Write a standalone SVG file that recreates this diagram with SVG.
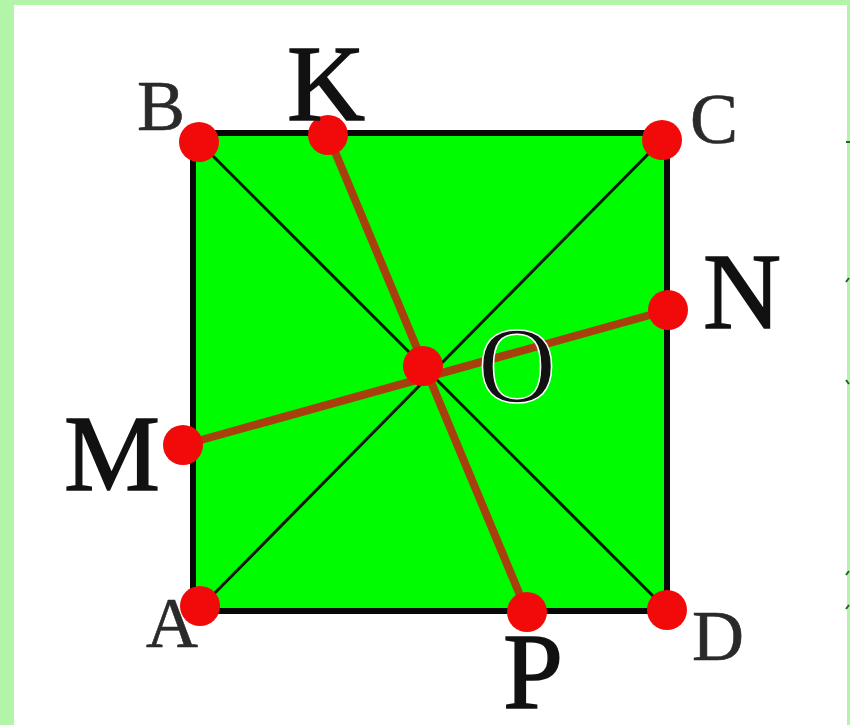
<svg xmlns="http://www.w3.org/2000/svg" width="850" height="725" viewBox="0 0 850 725">
<style>
.lbl{font-family:"Liberation Serif","Times New Roman",serif;fill:#111}
.big{font-size:108px;stroke:#111;stroke-width:1.5}
.sm{font-size:72px;fill:#2a2a2a;stroke:#2a2a2a;stroke-width:0.6}
.dot{fill:#f20a0a}
.diag{stroke:#0a1a0a;stroke-width:3}
.seg{stroke:#a8400e;stroke-width:8;stroke-linecap:round}
</style>
<rect x="0" y="0" width="850" height="725" fill="#b3f5a8"/>
<rect x="14" y="5" width="833" height="720" fill="#ffffff"/>
<g id="marks" stroke="#1a6a1a" stroke-width="2">
<line x1="846" y1="142" x2="850" y2="142"/>
<line x1="846" y1="282" x2="849" y2="278"/>
<line x1="846" y1="380" x2="849" y2="384"/>
<line x1="846" y1="575" x2="849" y2="571"/>
<line x1="846" y1="609" x2="849" y2="605"/>
</g>
<g id="square">
<rect x="193" y="133" width="474" height="478" fill="#00fc00" stroke="#080808" stroke-width="6"/>
</g>
<g id="connectors">
<line class="diag" x1="199" y1="142" x2="667" y2="610"/>
<line class="diag" x1="200" y1="608" x2="662" y2="140"/>
<line class="seg" x1="328" y1="135" x2="527" y2="612"/>
<line class="seg" x1="183" y1="445" x2="668" y2="310"/>
</g>
<g id="node-B"><circle class="dot" cx="199" cy="142" r="20"/><text class="lbl sm" x="137" y="130">B</text></g>
<g id="node-K"><circle class="dot" cx="328" cy="135" r="20"/><text class="lbl big" x="287" y="120">K</text></g>
<g id="node-C"><circle class="dot" cx="662" cy="140" r="20"/><text class="lbl sm" x="690" y="143">C</text></g>
<g id="node-N"><circle class="dot" cx="668" cy="310" r="20"/><text class="lbl big" x="703" y="328">N</text></g>
<g id="node-O"><circle class="dot" cx="423" cy="366" r="20"/><text class="lbl" x="478" y="402" font-size="108" fill="#000" stroke="#ffffff" stroke-width="1.5">O</text></g>
<g id="node-M"><circle class="dot" cx="183" cy="445" r="20"/><text class="lbl big" x="64" y="490">M</text></g>
<g id="node-A"><text class="lbl sm" x="146" y="647">A</text><circle class="dot" cx="200" cy="606" r="20"/></g>
<g id="node-P"><circle class="dot" cx="527" cy="612" r="20"/><text class="lbl big" x="503" y="708">P</text></g>
<g id="node-D"><circle class="dot" cx="667" cy="610" r="20"/><text class="lbl sm" x="692" y="660">D</text></g>
</svg>
